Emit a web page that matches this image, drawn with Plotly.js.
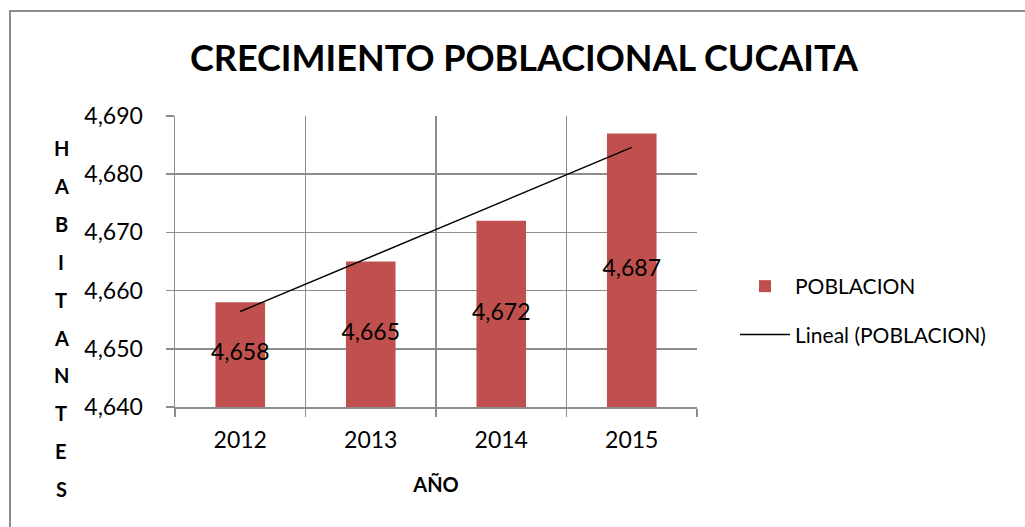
<!DOCTYPE html>
<html>
<head>
<meta charset="utf-8">
<script src="https://cdn.plot.ly/plotly-3.0.1.min.js"></script>
<style>
html,body{margin:0;padding:0;overflow:hidden;background:#fff;}
#frame{position:absolute;left:9px;top:10px;width:1200px;height:700px;border-left:2px solid #8c8c8c;border-top:2px solid #8c8c8c;pointer-events:none;z-index:5;}
#chart{position:absolute;left:0;top:0;width:1025px;height:527px;}
</style>
</head>
<body>
<div id="chart"></div>
<div id="frame"></div>
<script>
const years = ['2012', '2013', '2014', '2015'];
const poblacion = [4658, 4665, 4672, 4687];
const yTicks = [4640, 4650, 4660, 4670, 4680, 4690];
const chartTitle = 'CRECIMIENTO POBLACIONAL CUCAITA';
const xTitle = 'AÑO';
const yTitle = 'HABITANTES';
const seriesName = 'POBLACION';
const trendName = 'Lineal (POBLACION)';

const FONT = 'Lato, "Open Sans", sans-serif';
const yMin = yTicks[0], yMax = yTicks[yTicks.length - 1];

// linear trendline (least squares) over category index
const n = poblacion.length;
const xs = poblacion.map((_, i) => i + 1);
const mx = xs.reduce((a, b) => a + b, 0) / n;
const my = poblacion.reduce((a, b) => a + b, 0) / n;
let sxy = 0, sxx = 0;
for (let i = 0; i < n; i++) { sxy += (xs[i] - mx) * (poblacion[i] - my); sxx += (xs[i] - mx) ** 2; }
const slope = sxy / sxx, icpt = my - slope * mx;
const trend = xs.map(x => icpt + slope * x);

const W = 1025, H = 527;
const ml = 175, mr = W - 697, mt = 116, mb = H - 407;
const plotH = H - mt - mb;

const traces = [
  {
    type: 'bar', x: years, y: poblacion, name: seriesName, legendgroup: 'a',
    marker: { color: '#C0504D' }, hoverinfo: 'skip'
  },
  {
    type: 'scatter', mode: 'lines', x: years, y: trend, name: trendName, legendgroup: 'b',
    line: { color: '#000', width: 1.5 }, hoverinfo: 'skip'
  },
  {
    type: 'scatter', mode: 'text', x: years,
    y: poblacion.map(v => (v + yMin) / 2),
    text: poblacion.map(v => v.toLocaleString('en-US')),
    textposition: 'middle center',
    textfont: { family: FONT, size: 23, color: '#000' },
    showlegend: false, hoverinfo: 'skip'
  }
];

// vertical stacked y-axis title letters
const letters = yTitle.split('');
const annotations = letters.map((ch, i) => ({
  text: '<b>' + ch + '</b>', xref: 'paper', yref: 'paper',
  x: (61 - ml) / (W - ml - mr), y: (407 - (148 + i * 37.9)) / plotH,
  xanchor: 'center', yanchor: 'middle', showarrow: false,
  font: { family: FONT, size: 20, color: '#000' }
}));

const layout = {
  width: W, height: H,
  margin: { l: ml, r: mr, t: mt, b: mb, pad: 0 },
  paper_bgcolor: '#fff', plot_bgcolor: '#fff',
  font: { family: FONT, color: '#000' },
  title: {
    text: '<b>' + chartTitle + '</b>',
    font: { family: FONT, size: 36, color: '#000' },
    x: 524 / W, xanchor: 'center', xref: 'container',
    y: 1 - 58 / H, yanchor: 'middle', yref: 'container'
  },
  xaxis: {
    type: 'category', tickson: 'boundaries',
    showgrid: true, gridcolor: '#8c8c8c', gridwidth: 1.5,
    showline: true, linecolor: '#8c8c8c', linewidth: 1.5,
    ticks: 'outside', ticklen: 8, tickcolor: '#8c8c8c', tickwidth: 1.5,
    ticklabelstandoff: 12,
    tickfont: { family: FONT, size: 23, color: '#000' },
    title: { text: '<b>' + xTitle + '</b>', font: { family: FONT, size: 20, color: '#000' }, standoff: 26 },
    fixedrange: true
  },
  yaxis: {
    range: [yMin, yMax], tickvals: yTicks, tickformat: ',d',
    showgrid: true, gridcolor: '#8c8c8c', gridwidth: 1.5,
    showline: true, linecolor: '#8c8c8c', linewidth: 1.5,
    ticks: 'outside', ticklen: 8, tickcolor: '#8c8c8c', tickwidth: 1.5,
    ticklabelstandoff: 18, zeroline: false,
    tickfont: { family: FONT, size: 23, color: '#000' },
    fixedrange: true
  },
  bargap: 0.62,
  showlegend: true,
  legend: {
    x: (735 - ml) / (W - ml - mr), xanchor: 'left',
    y: (407 - 266) / plotH, yanchor: 'top',
    traceorder: 'grouped',
    font: { family: FONT, size: 21, color: '#000' },
    bgcolor: 'rgba(0,0,0,0)', tracegroupgap: 18, itemwidth: 50
  },
  annotations: annotations
};

Plotly.newPlot('chart', traces, layout, { displayModeBar: false, staticPlot: true });
</script>
</body>
</html>
